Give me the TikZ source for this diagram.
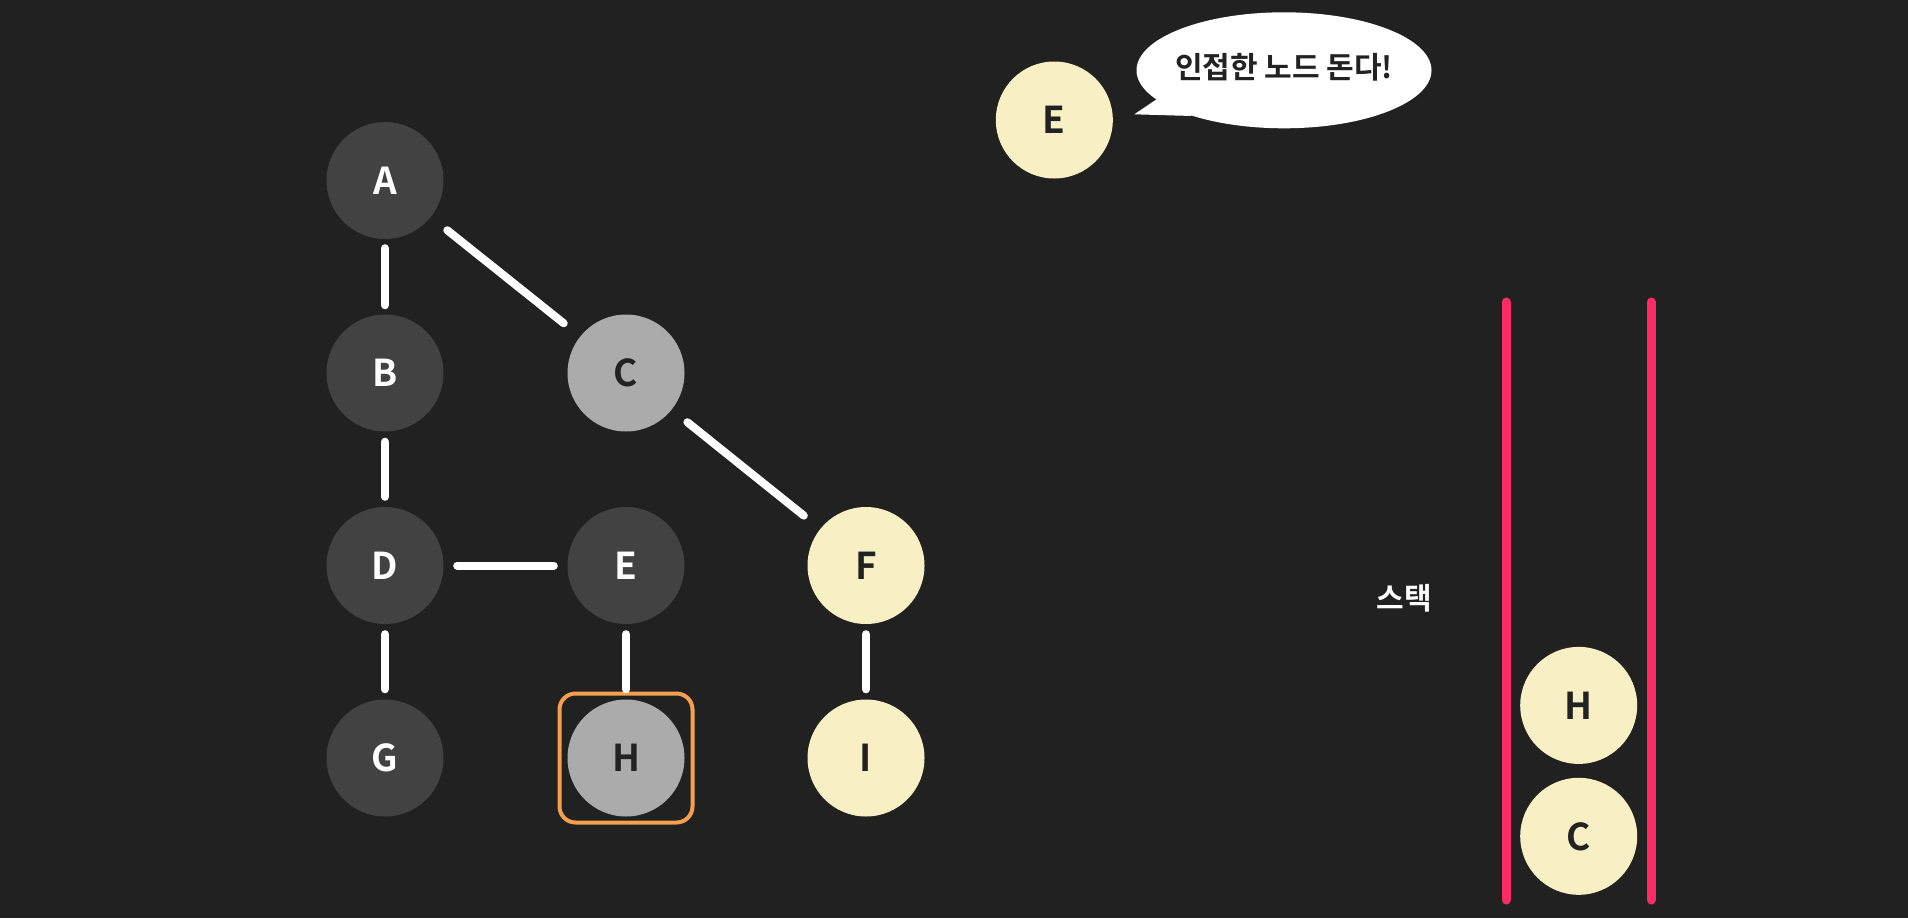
\documentclass[tikz,border=0pt]{standalone}
\usepackage{fontspec}
\setmainfont{Noto Sans CJK KR}[BoldFont={Noto Sans CJK KR Bold}]
\usetikzlibrary{shapes.geometric}
\definecolor{bgc}{HTML}{212121}
\definecolor{darkn}{HTML}{424242}
\definecolor{grayn}{HTML}{ABABAB}
\definecolor{yelln}{HTML}{F8EFC4}
\definecolor{orangec}{HTML}{F6A04D}
\definecolor{redc}{HTML}{FB2B66}
\definecolor{textd}{HTML}{222222}
\tikzset{
  gnode/.style={circle, minimum size=117pt, inner sep=0pt, font=\fontsize{37}{40}\selectfont\bfseries},
  darknode/.style={gnode, fill=darkn, text=white},
  graynode/.style={gnode, fill=grayn, text=textd},
  yellnode/.style={gnode, fill=yelln, text=textd},
  edge/.style={draw=white, line width=8pt, line cap=round},
  stackline/.style={draw=redc, line width=9pt, line cap=round},
  hbox/.style={draw=orangec, line width=4pt, rounded corners=16pt, minimum width=133pt, minimum height=129pt, inner sep=0pt},
  klabel/.style={font=\fontsize{30}{33}\selectfont\bfseries}
}
\begin{document}
\begin{tikzpicture}[x=1pt, y=-1pt]
\useasboundingbox (0,0) rectangle (1908,918);
\fill[bgc] (0,0) rectangle (1908,918);
% graph nodes
\node[darknode] (A) at (385,180.5) {A};
\node[darknode] (B) at (385,373) {B};
\node[graynode] (C) at (626,373) {C};
\node[darknode] (D) at (385,565.5) {D};
\node[darknode] (E) at (626,565.5) {E};
\node[yellnode] (F) at (866,565.5) {F};
\node[darknode] (G) at (385,758) {G};
\node[graynode] (H) at (626,758) {H};
\node[yellnode] (I) at (866,758) {I};
\node[hbox] (Hbox) at (H) {};
% edges
\draw[edge, shorten <=9pt, shorten >=9pt] (A) -- (B);
\draw[edge, shorten <=10pt, shorten >=10pt] (B) -- (D);
\draw[edge, shorten <=10pt, shorten >=10pt] (D) -- (G);
\draw[edge, shorten <=13.5pt, shorten >=13.5pt] (D) -- (E);
\draw[edge, shorten <=10pt, shorten >=10pt] (E) -- (H);
\draw[edge, shorten <=10pt, shorten >=10pt] (F) -- (I);
\draw[edge, shorten <=21pt, shorten >=21pt] (A) -- (C);
\draw[edge, shorten <=20pt, shorten >=21pt] (C) -- (F);
% current node and speech bubble
\node[yellnode] (Ecur) at (1054.3,120) {E};
\fill[white] (1284,70.3) ellipse [x radius=147.5, y radius=58];
\coordinate (tailtip) at (1134.3,114.3);
\coordinate (tailA) at (1160,97);
\coordinate (tailB) at (1192,116);
\fill[white] (tailtip) -- (tailA) -- (tailB) -- cycle;
\node[klabel, text=textd] (say) at (1284,67) {인접한 노드 돈다!};
% stack
\coordinate (sLtop) at (1506,302);
\coordinate (sLbot) at (1506,900);
\coordinate (sRtop) at (1651,302);
\coordinate (sRbot) at (1651,900);
\draw[stackline] (sLtop) -- (sLbot);
\draw[stackline] (sRtop) -- (sRbot);
\node[klabel, text=white] (stacklbl) at (1404,598) {스택};
\node[yellnode] (SH) at (1578.7,705.4) {H};
\node[yellnode] (SC) at (1578.7,836.3) {C};
\end{tikzpicture}
\end{document}
